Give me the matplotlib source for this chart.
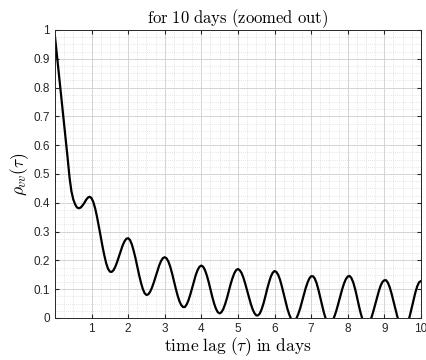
import numpy as np
import matplotlib
matplotlib.use("Agg")
import matplotlib.pyplot as plt
from matplotlib.ticker import MultipleLocator

# autocorrelation, one value every 0.05 days
tau = np.linspace(0, 10, 201)
rho = [0.978, 0.916, 0.855, 0.795, 0.734, 0.673, 0.612, 0.551, 0.486, 0.440,   # 0.00-0.45
       0.412, 0.395, 0.384, 0.381, 0.383, 0.390, 0.399, 0.410, 0.418, 0.421,   # 0.50-0.95
       0.416, 0.402, 0.380, 0.351, 0.318, 0.283, 0.248, 0.217, 0.190, 0.171,   # 1.00
       0.161, 0.160, 0.166, 0.178, 0.195, 0.214, 0.234, 0.252, 0.266, 0.275,   # 1.50
       0.277, 0.271, 0.256, 0.234, 0.208, 0.179, 0.149, 0.123, 0.101, 0.086,   # 2.00
       0.080, 0.082, 0.091, 0.105, 0.123, 0.143, 0.164, 0.183, 0.198, 0.208,   # 2.50
       0.211, 0.207, 0.196, 0.178, 0.155, 0.129, 0.103, 0.079, 0.059, 0.045,   # 3.00
       0.038, 0.038, 0.047, 0.062, 0.082, 0.105, 0.128, 0.150, 0.167, 0.178,   # 3.50
       0.182, 0.178, 0.166, 0.148, 0.125, 0.099, 0.073, 0.050, 0.032, 0.020,   # 4.00
       0.016, 0.020, 0.031, 0.048, 0.069, 0.093, 0.117, 0.138, 0.155, 0.166,   # 4.50
       0.170, 0.166, 0.156, 0.140, 0.119, 0.096, 0.072, 0.050, 0.031, 0.017,   # 5.00
       0.009, 0.009, 0.016, 0.031, 0.051, 0.075, 0.101, 0.124, 0.144, 0.157,   # 5.50
       0.163, 0.160, 0.150, 0.133, 0.110, 0.084, 0.058, 0.033, 0.013, -0.002,  # 6.00
       -0.009, -0.009, -0.001, 0.014, 0.033, 0.056, 0.080, 0.103, 0.122, 0.137,  # 6.50
       0.145, 0.145, 0.137, 0.121, 0.098, 0.071, 0.044, 0.018, -0.002, -0.016,  # 7.00
       -0.020, -0.017, -0.006, 0.010, 0.030, 0.053, 0.077, 0.100, 0.120, 0.135,  # 7.50
       0.144, 0.146, 0.139, 0.124, 0.102, 0.075, 0.046, 0.019, -0.003, -0.018,  # 8.00
       -0.025, -0.023, -0.013, 0.002, 0.023, 0.046, 0.070, 0.093, 0.112, 0.125,  # 8.50
       0.131, 0.131, 0.122, 0.106, 0.084, 0.059, 0.033, 0.008, -0.014, -0.030,  # 9.00
       -0.039, -0.039, -0.031, -0.014, 0.009, 0.036, 0.063, 0.089, 0.110, 0.124,  # 9.50
       0.128]                                                                   # 10.00
x_ticks = [1, 2, 3, 4, 5, 6, 7, 8, 9, 10]
y_ticks = [0, 0.1, 0.2, 0.3, 0.4, 0.5, 0.6, 0.7, 0.8, 0.9, 1]
y_labels = ["0", "0.1", "0.2", "0.3", "0.4", "0.5", "0.6", "0.7", "0.8", "0.9", "1"]

plt.rcParams["mathtext.fontset"] = "cm"
plt.rcParams["font.family"] = "Liberation Sans"

fig = plt.figure(figsize=(4.26, 3.6), dpi=100)
ax = fig.add_axes([0.129, 0.1167, 0.859, 0.8])

ax.plot(tau, rho, color="black", lw=1.6)
ax.set_xlim(0, 10)
ax.set_ylim(0, 1)
ax.set_xticks(x_ticks)
ax.set_yticks(y_ticks)
ax.set_yticklabels(y_labels)

# MATLAB style grid: major + dotted minor
ax.xaxis.set_minor_locator(MultipleLocator(0.25))
ax.yaxis.set_minor_locator(MultipleLocator(0.025))
ax.grid(True, which="major", color="#d4d4d4", lw=0.7)
ax.grid(True, which="minor", color="#dcdcdc", lw=0.6, ls=(0, (1, 1.5)))
ax.set_axisbelow(True)
ax.tick_params(which="both", direction="in", top=True, right=True,
               labelsize=8.5, colors="#262626", length=3)
ax.tick_params(which="minor", length=0)
for s in ax.spines.values():
    s.set_color("#262626")
    s.set_linewidth(0.7)

ax.set_title(r"$\mathrm{for\ 10\ days\ (zoomed\ out)}$", fontsize=12, pad=3)
ax.set_xlabel(r"$\mathrm{time\ lag\ }(\tau)\mathrm{\ in\ days}$", fontsize=12.5, labelpad=0)
ax.set_ylabel(r"$\rho_{vv}(\tau)$", fontsize=12.5, labelpad=2)

fig.savefig("out.png", dpi=100)
